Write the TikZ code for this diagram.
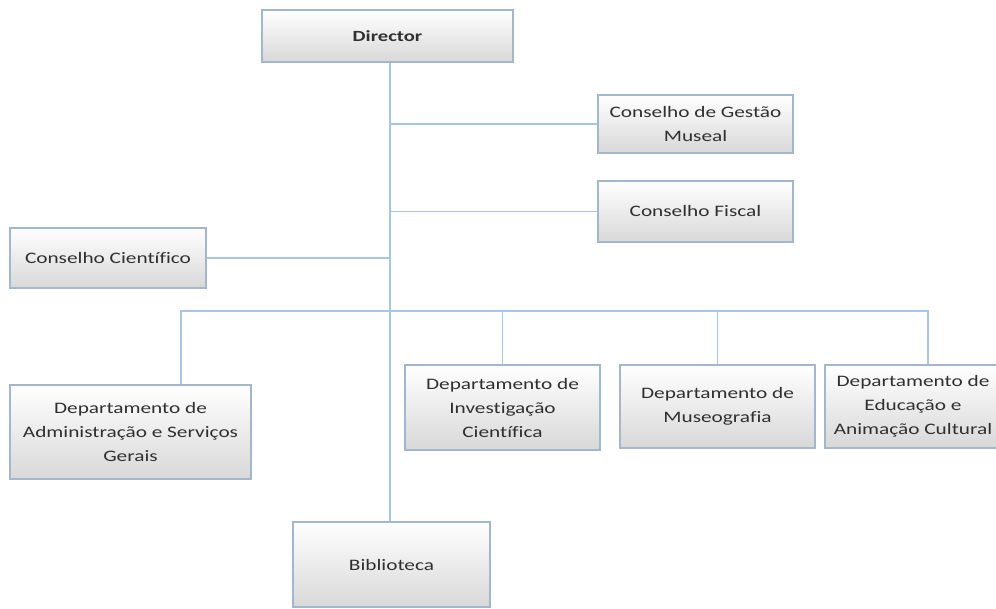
\documentclass[tikz,border=0pt]{standalone}
\usepackage{fontspec}
\setmainfont{Carlito}[FakeStretch=1.33, Ligatures={NoCommon}]
\definecolor{linec}{HTML}{A9C5E5}
\definecolor{boxedge}{HTML}{A3B6CC}
\definecolor{boxbot}{HTML}{D8D8D8}
\definecolor{txt}{HTML}{303030}
\tikzset{
  orgbox/.style={draw=boxedge, line width=1.2pt, top color=white, bottom color=boxbot,
    minimum width=#1, inner sep=0pt, align=center, text=txt,
    font=\fontsize{16}{24}\selectfont},
  conn/.style={draw=linec, line width=1.5pt}
}
\begin{document}
\begin{tikzpicture}[x=1pt,y=-1pt]
\clip (0,0) rectangle (996,608);
\fill[white] (0,0) rectangle (996,608);
\node[orgbox=251pt, minimum height=52pt, font=\fontsize{15.5}{18}\selectfont\bfseries] (dir) at (387.5,36) {Director};
\node[orgbox=195pt, minimum height=58pt] (cgm) at (695.5,124) {Conselho de Gestão\\Museal};
\node[orgbox=195pt, minimum height=61pt] (cf) at (695.5,211.5) {Conselho Fiscal};
\node[orgbox=196pt, minimum height=60pt] (cc) at (108,258) {Conselho Científico};
\node[orgbox=241pt, minimum height=94pt] (dadm) at (130.5,432) {Departamento de\\Administração e Serviços\\Gerais};
\node[orgbox=195pt, minimum height=85pt] (dinv) at (502.5,407.5) {Departamento de\\Investigação\\Científica};
\node[orgbox=195pt, minimum height=83pt] (dmus) at (717.5,406.5) {Departamento de\\Museografia};
\node[orgbox=176pt, minimum height=83pt] (dedu) at (913,406.5) {Departamento de\\Educação e\\Animação Cultural};
\node[orgbox=197pt, minimum height=85pt] (bib) at (391.5,564.5) {Biblioteca};
\coordinate (t) at (390,0);
\coordinate (b1) at (181,311);
\coordinate (b5) at (928,311);
\draw[conn] (dir.south -| t) -- (bib.north -| t);
\draw[conn] (cgm.west) -- (cgm.west -| t);
\draw[conn] (cf.west) -- (cf.west -| t);
\draw[conn] (cc.east) -- (cc.east -| t);
\draw[conn] (b1 |- dadm.north) -- (b1) -- (b5) -- (b5 |- dedu.north);
\draw[conn] (dinv.north) -- (dinv.north |- b1);
\draw[conn] (dmus.north) -- (dmus.north |- b1);
\end{tikzpicture}
\end{document}
